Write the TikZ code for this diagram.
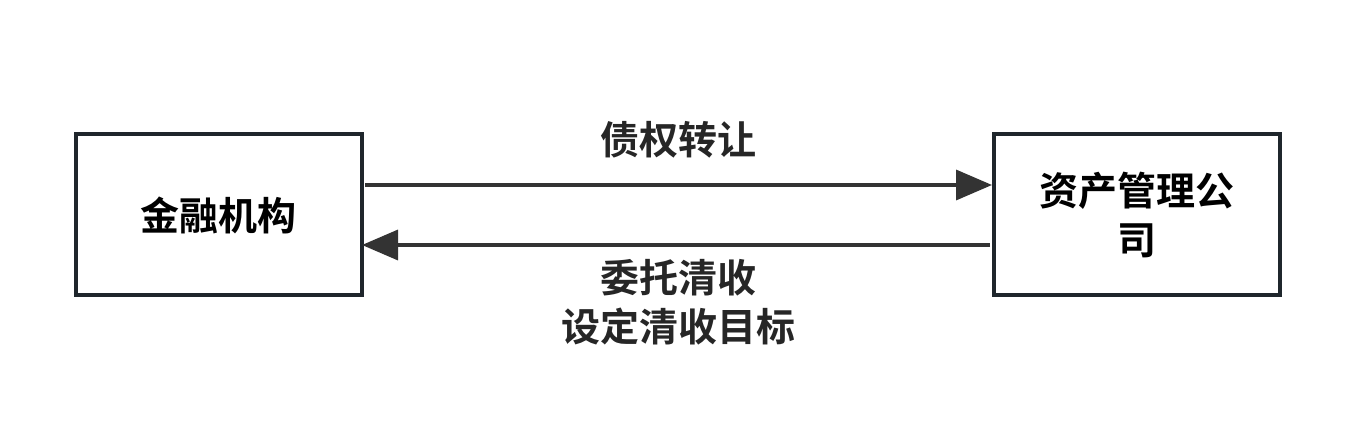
\documentclass[tikz,border=0pt]{standalone}
\usepackage{fontspec}
\setmainfont{Noto Sans CJK SC}[BoldFont={* Bold}]
\usetikzlibrary{arrows.meta}
\definecolor{boxc}{HTML}{1F262C}
\definecolor{arrc}{HTML}{333333}
\tikzset{
  box/.style={draw=boxc, line width=4pt, minimum width=286pt, minimum height=161pt, inner sep=0pt, align=center, font=\fontsize{39}{49}\selectfont\bfseries, text width=240pt},
  conn/.style={draw=arrc, line width=3.5pt, -{Triangle[length=36pt,width=30pt]}},
  lbl/.style={font=\fontsize{39}{49}\selectfont\bfseries, align=center, text=black!85}
}
\begin{document}
\begin{tikzpicture}[x=1pt,y=-1pt]
\useasboundingbox (0,0) rectangle (1356,435);
\node[box] (a) at (218.5,215) {金融机构};
\node[box] (b) at (1136.5,215) {资产管理公\\司};
\coordinate (a1) at (365,185);
\coordinate (b1) at (992,185);
\coordinate (b2) at (990,245);
\coordinate (a2) at (362,245);
\draw[conn] (a1) -- (b1);
\draw[conn] (b2) -- (a2);
\node[lbl] (l1) at (678,140) {债权转让};
\node[lbl] (l2) at (678,302) {委托清收\\设定清收目标};
\end{tikzpicture}
\end{document}
